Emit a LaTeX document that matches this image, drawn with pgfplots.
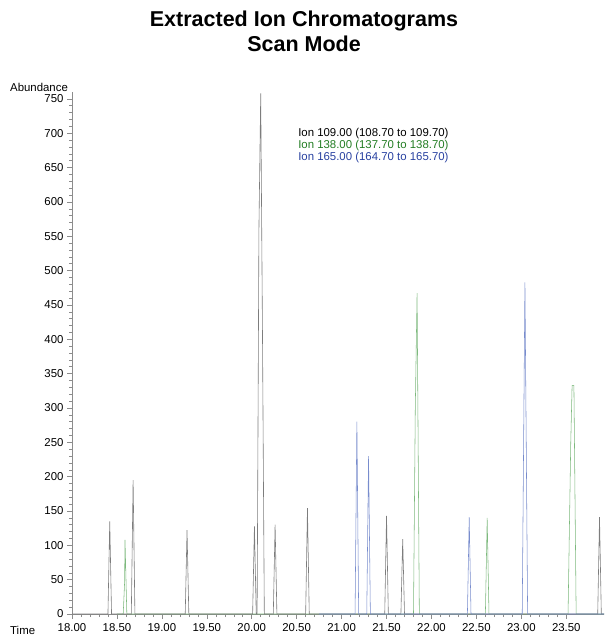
\documentclass[border=0pt]{standalone}
\usepackage{pgfplots}
\pgfplotsset{compat=1.18}
\usepackage{fontspec}
\setmainfont{Liberation Sans}

\definecolor{trA}{RGB}{125,125,125}
\definecolor{trB}{RGB}{125,185,125}
\definecolor{trC}{RGB}{120,140,205}
\definecolor{txB}{RGB}{35,125,35}
\definecolor{txC}{RGB}{40,65,160}
\definecolor{axgray}{RGB}{140,140,140}

\begin{document}
\begin{tikzpicture}
\useasboundingbox (0,0) rectangle (608bp,641bp);

% titles
\node[anchor=base,font=\fontsize{21.5bp}{24bp}\selectfont\bfseries] at (304bp,614bp) {Extracted Ion Chromatograms};
\node[anchor=base,font=\fontsize{21.5bp}{24bp}\selectfont\bfseries] at (304bp,589bp) {Scan Mode};
\node[anchor=base west,inner sep=0pt,font=\fontsize{11.4bp}{13bp}\selectfont] at (10bp,549bp) {Abundance};
\node[anchor=base west,inner sep=0pt,font=\fontsize{11.4bp}{13bp}\selectfont] at (10bp,7bp) {Time};

\begin{axis}[
  at={(72bp,27bp)}, anchor=south west,
  scale only axis, width=532bp, height=522bp,
  xmin=18, xmax=23.92, ymin=0, ymax=760,
  axis x line=bottom, axis y line=left,
  axis line style={-, axgray, line width=0.6pt},
  tick align=outside,
  major tick length=5bp, minor tick length=3bp,
  tick style={axgray, line width=0.5pt},
  xtick={18,18.5,...,23.5}, minor x tick num=4,
  ytick={0,50,...,750}, minor y tick num=4,
  ticklabel style={font=\fontsize{11.4bp}{13bp}\selectfont},
  /pgf/number format/assume math mode=true,
  xticklabel style={yshift=-1.5bp, /pgf/number format/.cd, fixed, fixed zerofill, precision=2},
  yticklabel style={/pgf/number format/.cd, fixed, precision=0, 1000 sep={}},
  clip=false,
]
% Ion 138.00
\addplot[trB, line width=0.55pt] coordinates {
 (18.50,0) (18.57,0) (18.585,45) (18.59,108) (18.61,0)
 (21.80,0) (21.82,300) (21.84,467) (21.865,0)
 (22.60,0) (22.62,140) (22.64,0)
 (23.52,0) (23.55,250) (23.565,333) (23.585,333) (23.61,0) (23.92,0)
};
% Ion 109.00
\addplot[trA, line width=0.6pt] coordinates {
 (18.00,0) (18.40,0) (18.42,135) (18.44,0)
 (18.66,0) (18.68,195) (18.70,0)
 (19.26,0) (19.28,122) (19.30,0)
 (20.01,0) (20.03,128) (20.05,0)
 (20.06,0) (20.08,560) (20.10,758) (20.12,400) (20.14,0)
 (20.24,0) (20.26,130) (20.28,0)
 (20.60,0) (20.62,154) (20.64,0)
 (21.48,0) (21.50,143) (21.52,0)
 (21.66,0) (21.68,109) (21.70,0)
 (23.85,0) (23.87,141) (23.89,0) (23.92,0)
};
% Ion 165.00
\addplot[trC, line width=0.55pt] coordinates {
 (20.75,0) (21.15,0) (21.17,280) (21.19,0)
 (21.28,0) (21.30,230) (21.32,0)
 (22.40,0) (22.42,141) (22.44,0)
 (23.01,0) (23.04,483) (23.07,0) (23.92,0)
};

\node[anchor=west,inner sep=0pt,font=\fontsize{11.4bp}{13bp}\selectfont] at (rel axis cs:0.425,0.921) {Ion 109.00 (108.70 to 109.70)};
\node[anchor=west,inner sep=0pt,text=txB,font=\fontsize{11.4bp}{13bp}\selectfont] at (rel axis cs:0.425,0.898) {Ion 138.00 (137.70 to 138.70)};
\node[anchor=west,inner sep=0pt,text=txC,font=\fontsize{11.4bp}{13bp}\selectfont] at (rel axis cs:0.425,0.875) {Ion 165.00 (164.70 to 165.70)};
\end{axis}
\end{tikzpicture}
\end{document}
